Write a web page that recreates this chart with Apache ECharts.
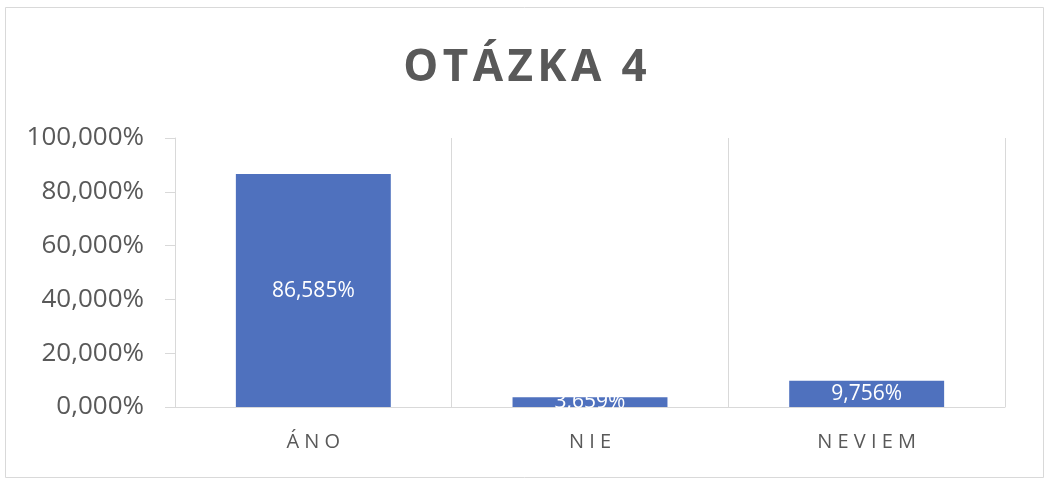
<!DOCTYPE html>
<html>
<head>
<meta charset="utf-8">
<script src="https://cdn.jsdelivr.net/npm/echarts@6/dist/echarts.min.js"></script>
<style>
html,body{margin:0;padding:0;background:#fff;}
#chart{width:1050px;height:485px;}
</style>
</head>
<body>
<div id="chart"></div>
<script>
var titleText = 'OTÁZKA 4';
var categories = ['ÁNO', 'NIE', 'NEVIEM'];
var values = [86.585, 3.659, 9.756];
var yTicks = [0, 20, 40, 60, 80, 100];

function fmt(v) { return v.toFixed(3).replace('.', ',') + '%'; }
function spaced(s) { return s.split('').join(' '); }

var chart = echarts.init(document.getElementById('chart'));
chart.setOption({
  animation: false,
  backgroundColor: '#ffffff',
  graphic: [{
    type: 'rect',
    shape: { x: 5.5, y: 7.5, width: 1038, height: 470 },
    style: { fill: 'none', stroke: '#d9d9d9', lineWidth: 1 },
    silent: true, z: -1
  }],
  title: {
    text: titleText.split('').join('\u200A'),
    left: 'center',
    top: 41,
    textStyle: { fontFamily: 'Open Sans', fontWeight: 'bold', fontSize: 44, color: '#595959' }
  },
  grid: { left: 175, right: 45, top: 138, bottom: 78, containLabel: false },
  xAxis: {
    type: 'category',
    data: categories,
    axisLine: { show: true, lineStyle: { color: '#d9d9d9', width: 1 } },
    axisTick: { show: false },
    splitLine: { show: true, lineStyle: { color: '#d9d9d9', width: 1 } },
    axisLabel: {
      margin: 25,
      fontFamily: 'Open Sans', fontSize: 20, color: '#595959',
      formatter: function (v) { return spaced(v); }
    }
  },
  yAxis: {
    type: 'value',
    min: yTicks[0],
    max: yTicks[yTicks.length - 1],
    interval: yTicks[1] - yTicks[0],
    axisLine: { show: true, lineStyle: { color: '#d9d9d9', width: 1 } },
    axisTick: { show: true, length: 10, lineStyle: { color: '#d9d9d9', width: 1 } },
    splitLine: { show: false },
    axisLabel: {
      margin: 31,
      fontFamily: 'Open Sans', fontSize: 26, color: '#595959',
      formatter: function (v) { return fmt(v); }
    }
  },
  series: [{
    type: 'bar',
    data: values,
    barWidth: '56%',
    itemStyle: { color: '#4F71BE' },
    label: {
      show: true,
      position: 'inside',
      color: '#ffffff',
      fontFamily: 'Open Sans', fontSize: 21,
      formatter: function (p) { return fmt(p.value); }
    }
  }]
});
</script>
</body>
</html>
